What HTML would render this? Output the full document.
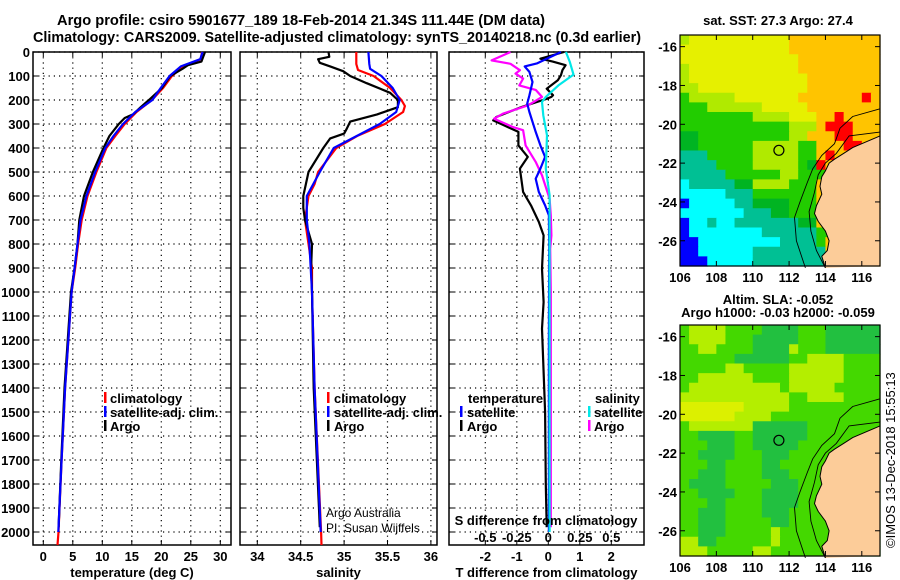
<!DOCTYPE html>
<html><head><meta charset="utf-8"><style>
html,body{margin:0;padding:0;background:#fff;}
svg{display:block;font-family:"Liberation Sans",sans-serif;}
.b{font-weight:bold;font-size:13px;}
</style></head><body>
<svg id="s" width="900" height="580" xmlns="http://www.w3.org/2000/svg">
<text x="57" y="25" textLength="488" lengthAdjust="spacingAndGlyphs" font-size="14.5" font-weight="bold">Argo profile: csiro 5901677_189 18-Feb-2014 21.34S 111.44E (DM data)</text>
<text x="33" y="42" textLength="608" lengthAdjust="spacingAndGlyphs" font-size="14.5" font-weight="bold">Climatology: CARS2009. Satellite-adjusted climatology: synTS_20140218.nc (0.3d earlier)</text>
<g id="g"></g>
</svg>
<script>
// ---------- profile data ----------
const tClimDepth=[0,30,60,100,150,200,250,300,350,400,500,600,700,800,900,1000,1400,1700,2000,2054];
const tClimVal=[26.9,26.7,23.7,21.8,20.3,18.4,15.8,13.8,12.2,10.7,9.0,7.5,6.5,5.9,5.4,4.8,3.7,3.1,2.57,2.4];
const tSatDepth=[0,30,60,100,150,200,250,300,350,400,500,600,700,800,900,1000,1400,1700,2000];
const tSatVal=[27.0,26.6,23.3,21.4,19.9,18.5,15.6,13.5,11.9,10.5,8.8,7.3,6.3,5.8,5.3,4.8,3.7,3.1,2.55];
const tArgoDepth=[0,40,55,70,100,150,200,230,260,275,300,350,400,500,600,700,800,900,1000,1400,1700,1980];
const tArgoVal=[27.4,26.8,24.5,23.6,21.5,20.1,17.9,16.5,15.2,13.8,12.8,11.2,10.2,8.4,6.9,6.1,5.8,5.3,4.7,3.6,3.05,2.6];

const sClimDepth=[0,50,75,100,150,200,225,250,300,350,400,500,550,600,700,800,900,1000,1400,2000,2054];
const sClimVal=[35.14,35.14,35.16,35.34,35.53,35.66,35.70,35.68,35.47,35.15,34.91,34.70,34.66,34.59,34.55,34.59,34.63,34.63,34.66,34.735,34.74];
const sSatDepth=[0,50,70,100,150,200,250,300,400,500,600,700,800,1000,1400,2000];
const sSatVal=[35.28,35.29,35.30,35.43,35.56,35.64,35.60,35.41,34.88,34.72,34.57,34.57,34.60,34.63,34.66,34.73];
const sArgoDepth=[0,20,30,45,60,80,100,130,170,200,230,260,290,320,340,360,400,500,600,650,700,800,900,1000,1400,1980];
const sArgoVal=[34.82,34.83,34.70,34.72,34.84,34.99,35.07,35.26,35.53,35.62,35.62,35.38,35.07,35.03,35.00,34.84,34.76,34.59,34.53,34.53,34.55,34.63,34.62,34.63,34.65,34.72];

const dTSatDepth=[0,47,60,68,83,125,181,215,250,333,389,437,486,528,583,639,681,800,1200,1600,2000];
const dTSatVal=[0.40,-0.35,-0.75,-0.7,-0.6,-0.5,-0.6,-0.67,-0.6,-0.4,-0.25,-0.1,-0.25,-0.4,-0.3,-0.1,0.02,0.03,0.02,0.02,0.02];
const dTArgoDepth=[0,28,40,55,75,97,118,153,180,187,195,229,271,285,333,389,437,486,583,639,708,764,903,1042,1153,1500,1800,1980];
const dTArgoVal=[0.5,-0.25,0.14,0.55,0.45,0.4,0.3,-0.05,0.15,0.1,-0.05,-0.85,-1.65,-1.75,-0.95,-0.95,-0.65,-0.9,-0.8,-0.55,-0.3,-0.15,-0.2,-0.15,-0.2,-0.1,-0.08,-0.05];
const dSSatDepth=[0,40,94,139,187,208,264,347,486,597,694,1000,1500,2000];
const dSSatVal=[0.14,0.17,0.2,0.08,-0.02,-0.05,-0.04,-0.01,-0.02,0.01,0.01,0.01,0.01,0.01];
const dSArgoDepth=[0,35,49,76,90,111,139,158,187,222,257,278,313,326,389,458,514,611,681,764,819,1000,1500,1980];
const dSArgoVal=[-0.3,-0.45,-0.3,-0.225,-0.26,-0.2,-0.23,-0.1,-0.05,-0.16,-0.36,-0.43,-0.28,-0.2,-0.18,-0.1,-0.05,0.01,0.02,0.025,0.015,0.02,0.02,0.02];

// tick labels
const depthTicks=[0,100,200,300,400,500,600,700,800,900,1000,1100,1200,1300,1400,1500,1600,1700,1800,1900,2000];
const tTicks=[0,5,10,15,20,25,30];
const sTicks=[34,34.5,35,35.5,36];
const sTickLabels=["34","34.5","35","35.5","36"];
const dTTicks=[-2,-1,0,1,2];
const dSTicks=[-0.5,-0.25,0,0.25,0.5];
const dSTickLabels=["-0.5","-0.25","0","0.25","0.5"];

// map data (run-length rows, 0.5 deg cells, 106E-117E, from 15.4S southward)
const sstRows=["L1Y11O10","Y12O10","Y13O9","L1Y12O9","L1Y13O8","L2Y12O8","G1L5Y7O7R1O1","G3L6Y5O8","G8L4Y3O2R1O4","G12L3O1R3O3","D2G10L2O3R2O3","D2G6L5G2O3R2O2","T3G5L5G2O1R1O5","T4G4L5G1D1R1O6","T5G6L2G3O6","C1T5D2L4G3O7","C5T3G7O7","B1C5T2D4G3O7","C7T3D2G3O7","B1C2T1C2T7D2O7","B1C8T6G2O5","B2C9T4G1O6","B2C6T8O6","B3C5T8O6"];
const slaRows=["G1L4G4D4G3D6","G1L4G3D5G3D6","G2L2G4D4L1G3D6","G6D6G2L4G4","G5L2G5L6G4","G2L6G4L6G4","G1L10G1L5G5","L12G2L4G4","Y7L5G10","Y6L4G12","G1L7D6G7G1","G2D4G2D6G8","G3D3G2D5G9","G2D4G3D3G10","G3D2G4D2G11","G2D3G4D3G10","G1D4G5D3G9","G2D4G3D4G9","G3D2G4D4G9","G2D3G4D3G10","G2D3G5D2G10","G2D3G5L1G11","L2D2G6L1G11","L3G5L2G12"];
const sstCols={O:"#ffc400",Y:"#e6f000",L:"#b0ea00",G:"#22cc00",D:"#00b422",T:"#00c094",C:"#00ffff",B:"#0000ff",R:"#ff0000"};
const slaCols={G:"#44d800",D:"#22c040",L:"#b4ee00",Y:"#dcf000"};
const coast=[[117,-20.6],[116.5,-20.8],[115.5,-21.2],[115,-21.5],[114.5,-21.8],[114.2,-22],[114,-22.4],[113.8,-22.7],[113.7,-23.2],[113.8,-23.6],[113.5,-24.2],[113.4,-24.6],[113.6,-25],[114,-25.5],[114.2,-26],[114.1,-26.5],[113.8,-26.8],[114,-27.4]];
const iso1=[[117,-19.2],[115.5,-19.6],[114.8,-20.2],[114.5,-21],[113.8,-21.6],[113.3,-22.3],[113,-23],[112.6,-24],[112.3,-24.8],[112.4,-26],[112.9,-27.4]];
const iso2=[[117,-20.4],[115.3,-20.6],[114.6,-21.5],[114,-22],[113.6,-22.6],[113.4,-23.5],[113.1,-24.5],[113.2,-25.5],[113.5,-26.5],[114,-27.4]];
const argoPos=[111.44,-21.34];
const latTicks=[-16,-18,-20,-22,-24,-26];
const lonTicks=[106,108,110,112,114,116];

const NS="http://www.w3.org/2000/svg";
const G=document.getElementById('g');
function mk(tag,at,par){const e=document.createElementNS(NS,tag);for(const k in at)e.setAttribute(k,at[k]);(par||G).appendChild(e);return e;}
const Y=d=>52+d*0.24;
const TOP=52,BOT=545;

function panel(name,x0,x1,sx,xt,xl,title){
  const g=mk('g',{});
  
  
  for(const v of xt){const x=sx(v);mk('line',{x1:x,y1:TOP,x2:x,y2:BOT,stroke:'#000','stroke-dasharray':'1.2,4','stroke-width':1.2},g);
    mk('line',{x1:x,y1:TOP,x2:x,y2:TOP+5,stroke:'#000'},g);mk('line',{x1:x,y1:BOT,x2:x,y2:BOT-5,stroke:'#000'},g);}
  for(const d of depthTicks){const y=Y(d);mk('line',{x1:x0,y1:y,x2:x1,y2:y,stroke:'#000','stroke-dasharray':'1.2,4','stroke-width':1.2},g);
    mk('line',{x1:x0,y1:y,x2:x0+5,y2:y,stroke:'#000'},g);mk('line',{x1:x1,y1:y,x2:x1-5,y2:y,stroke:'#000'},g);}
  mk('rect',{x:x0,y:TOP,width:x1-x0,height:BOT-TOP,fill:'none',stroke:'#000','stroke-width':1.5},g);
  xt.forEach((v,i)=>{const t=mk('text',{x:sx(v),y:561,'text-anchor':'middle',class:'b'},g);t.textContent=xl[i];
    
    });
  const tt=mk('text',{x:(x0+x1)/2,y:577,'text-anchor':'middle',class:'b'},g);tt.textContent=title;
  
  
  return g;
}
function line(name,ds,vs,sx,col,w){
  const pts=ds.map((d,i)=>sx(vs[i]).toFixed(1)+','+Y(d).toFixed(1)).join(' ');
  const p=mk('polyline',{points:pts,fill:'none',stroke:col,'stroke-width':w||2.2,'stroke-linejoin':'round'});
  
  
}
function txt(s,x,y,opt){const t=mk('text',Object.assign({x:x,y:y,class:'b'},opt||{}));t.textContent=s;return t;}
function legMark(x,y,col){mk('rect',{x:x,y:y-11,width:2.5,height:11,fill:col});}

// y axis labels
for(const d of depthTicks){const t=txt(String(d),30,Y(d)+5,{'text-anchor':'end'});
  
  }

// panel 1 temperature
const sxT=v=>43.3+v*5.9;
panel('temperature-panel',33,231,sxT,tTicks,tTicks.map(String),'temperature (deg C)');
line('temp-climatology-line',tClimDepth,tClimVal,sxT,'#ff0000');
line('temp-argo-line',tArgoDepth,tArgoVal,sxT,'#000');
line('temp-satellite-line',tSatDepth,tSatVal,sxT,'#0000ff');
// panel 2 salinity
const sxS=v=>257.3+(v-34)*86.8;
panel('salinity-panel',240,437,sxS,sTicks,sTickLabels,'salinity');
line('sal-climatology-line',sClimDepth,sClimVal,sxS,'#ff0000');
line('sal-argo-line',sArgoDepth,sArgoVal,sxS,'#000');
line('sal-satellite-line',sSatDepth,sSatVal,sxS,'#0000ff');
// panel 3 differences
const sxD=v=>548.3+v*31.5;
const sxDS=v=>548.3+v*126;
panel('difference-panel',449,644,sxD,dTTicks,dTTicks.map(String),'T difference from climatology');
line('dT-argo-line',dTArgoDepth,dTArgoVal,sxD,'#000');
line('dS-argo-line',dSArgoDepth,dSArgoVal,sxDS,'#ff00ff');
line('dT-satellite-line',dTSatDepth,dTSatVal,sxD,'#0000ff');
line('dS-satellite-line',dSSatDepth,dSSatVal,sxDS,'#00e8e8');

// legends
legMark(104,403,'#ff0000');txt('climatology',110,403);
legMark(104,417,'#0000ff');txt('satellite-adj. clim.',110,417);
legMark(104,431,'#000');txt('Argo',110,431);
legMark(327,403,'#ff0000');txt('climatology',334,403);
legMark(327,417,'#0000ff');txt('satellite-adj. clim.',334,417);
legMark(327,431,'#000');txt('Argo',334,431);
txt('Argo Australia',326,517,{class:'',style:'font-size:12px'});
txt('PI: Susan Wijffels',326,532,{class:'',style:'font-size:12px'});
txt('temperature',468,403);txt('salinity',595,403);
legMark(460,417,'#0000ff');txt('satellite',467,417);
legMark(460,431,'#000');txt('Argo',467,431);
legMark(588,417,'#00e8e8');txt('satellite',594,417);
legMark(588,431,'#ff00ff');txt('Argo',594,431);
txt('S difference from climatology',546,525,{'text-anchor':'middle'});
dSTicks.forEach((v,i)=>{const t=txt(dSTickLabels[i],sxDS(v),542,{'text-anchor':'middle'});
  
  });

// maps
function map(name,top,bot,rows,cols){
  const L=680,R=880,lonx=v=>L+(v-106)*18.18, laty=v=>top+(-15.4-v)*((bot-top)/11.9);
  const g=mk('g',{});
  
  
  const cw=(R-L)/22,ch=(bot-top)/24;
  rows.forEach((r,ri)=>{let c=0;const re=/([A-Z])(\d+)/g;let m;
    while((m=re.exec(r))){const n=+m[2];mk('rect',{x:(L+c*cw).toFixed(2),y:(top+ri*ch).toFixed(2),width:(n*cw+0.6).toFixed(2),height:(ch+0.6).toFixed(2),fill:cols[m[1]]},g);c+=n;}});
  const cp=coast.map(p=>lonx(p[0]).toFixed(1)+','+laty(p[1]).toFixed(1));
  const land=mk('polygon',{points:cp.join(' ')+' '+R+','+bot+' '+R+','+laty(-20.6),fill:'#fccc99'},g);
  
  
  mk('polyline',{points:cp.join(' '),fill:'none',stroke:'#000','stroke-width':1},g);
  for(const iso of [iso1,iso2])mk('polyline',{points:iso.map(p=>lonx(p[0]).toFixed(1)+','+laty(p[1]).toFixed(1)).join(' '),fill:'none',stroke:'#000','stroke-width':0.9},g);
  const c=mk('circle',{cx:lonx(argoPos[0]),cy:laty(argoPos[1]),r:5,fill:'none',stroke:'#000','stroke-width':1.2},g);
  
  
  mk('rect',{x:L,y:top,width:R-L,height:bot-top,fill:'none',stroke:'#000','stroke-width':1.2},g);
  for(const v of latTicks){const y=laty(v);mk('line',{x1:L,y1:y,x2:L+5,y2:y,stroke:'#000'},g);mk('line',{x1:R,y1:y,x2:R-5,y2:y,stroke:'#000'},g);
    const t=mk('text',{x:L-3,y:y+5,'text-anchor':'end',class:'b'},g);t.textContent=String(v);}
  for(const v of lonTicks){const x=lonx(v);mk('line',{x1:x,y1:top,x2:x,y2:top+5,stroke:'#000'},g);mk('line',{x1:x,y1:bot,x2:x,y2:bot-5,stroke:'#000'},g);
    const t=mk('text',{x:x,y:bot+16,'text-anchor':'middle',class:'b'},g);t.textContent=String(v);}
  return g;
}
map('sst-map',35,266,sstRows,sstCols);
map('sla-map',325,556,slaRows,slaCols);
txt('sat. SST: 27.3 Argo: 27.4',778,25,{'text-anchor':'middle'});
txt('Altim. SLA: -0.052',778,304,{'text-anchor':'middle'});
txt('Argo h1000: -0.03 h2000: -0.059',778,317,{'text-anchor':'middle'});
txt('\u00a9IMOS 13-Dec-2018 15:55:13',0,0,{class:'',style:'font-size:13px',transform:'translate(895,548) rotate(-90)'});
</script>
</body></html>
